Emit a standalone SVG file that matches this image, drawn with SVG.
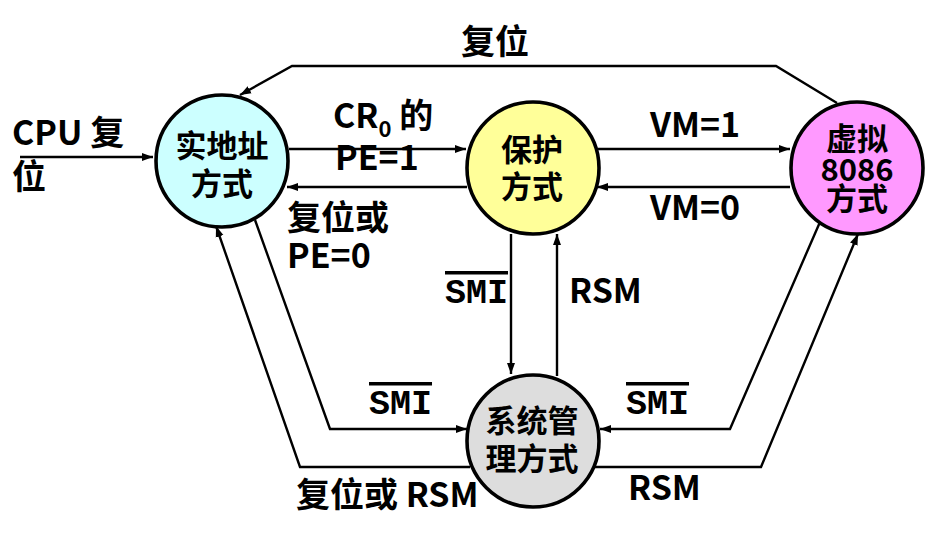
<svg xmlns="http://www.w3.org/2000/svg" width="944" height="552" viewBox="0 0 944 552">
<defs>
<marker id="ah" markerUnits="userSpaceOnUse" markerWidth="12" markerHeight="10" refX="11" refY="5" orient="auto">
<path d="M0,1 L11,5 L0,9 Z" fill="#000"/>
</marker>
<style>
.node circle{stroke:#000;stroke-width:3.6}
.nt{font-family:"Noto Sans CJK SC","Noto Sans",sans-serif;font-weight:bold;font-size:31px;fill:#000;text-anchor:middle}
.lb{font-family:"Noto Sans CJK SC","Noto Sans",sans-serif;font-weight:bold;font-size:34px;fill:#000}
.mono{font-family:"Liberation Mono","DejaVu Sans Mono",monospace;font-weight:bold;font-size:35px;fill:#000;text-decoration:overline}
.c{fill:none;stroke:#000;stroke-width:2.4;marker-end:url(#ah)}
</style>
</defs>
<rect width="944" height="552" fill="#fff"/>
<g id="nodes">
<g id="n-real" class="node"><circle cx="222" cy="161" r="66" fill="#CCFFFF"/><text class="nt" x="222" y="157">实地址</text><text class="nt" x="222" y="195">方式</text></g>
<g id="n-prot" class="node"><circle cx="533" cy="168" r="66" fill="#FFFF99"/><text class="nt" x="532" y="161">保护</text><text class="nt" x="532" y="198">方式</text></g>
<g id="n-v86" class="node"><circle cx="857" cy="168" r="66" fill="#FF99FF"/><text class="nt" x="857" y="150">虚拟</text><text class="nt" x="857" y="181">8086</text><text class="nt" x="857" y="210">方式</text></g>
<g id="n-smm" class="node"><circle cx="533" cy="441" r="66" fill="#DDDDDD"/><text class="nt" x="532" y="432">系统管</text><text class="nt" x="532" y="470">理方式</text></g>
</g>
<g id="connectors">
<path class="c" d="M20 157 H153"/>
<path class="c" d="M289 149 H466"/>
<path class="c" d="M467 187 H287"/>
<path class="c" d="M598 149 H790"/>
<path class="c" d="M790 187 H597"/>
<path class="c" d="M837 103 L776 66 H292 L240 95"/>
<path class="c" d="M511 234 V374"/>
<path class="c" d="M557 376 V234"/>
<path class="c" d="M255 220 L330 429 H467"/>
<path class="c" d="M470 467 H300 L216 226"/>
<path class="c" d="M820 222 L730 429 H600"/>
<path class="c" d="M593 467 H761 L858 234"/>
</g>
<g id="labels">
<text class="lb" x="461" y="54">复位</text>
<text class="lb" x="12" y="145">CPU 复</text>
<text class="lb" x="12" y="189">位</text>
<text class="lb" x="333" y="128">CR<tspan font-size="22" dy="9">0</tspan><tspan dy="-9"> 的</tspan></text>
<text class="lb" x="335" y="170">PE=1</text>
<text class="lb" x="287" y="230">复位或</text>
<text class="lb" x="287" y="268">PE=0</text>
<text class="lb" x="650" y="137">VM=1</text>
<text class="lb" x="650" y="220">VM=0</text>
<text class="mono" x="445" y="303">SMI</text>
<text class="lb" x="569" y="303">RSM</text>
<text class="mono" x="369" y="414">SMI</text>
<text class="mono" x="626" y="414">SMI</text>
<text class="lb" x="296" y="507">复位或 RSM</text>
<text class="lb" x="628" y="500">RSM</text>
</g>
</svg>
